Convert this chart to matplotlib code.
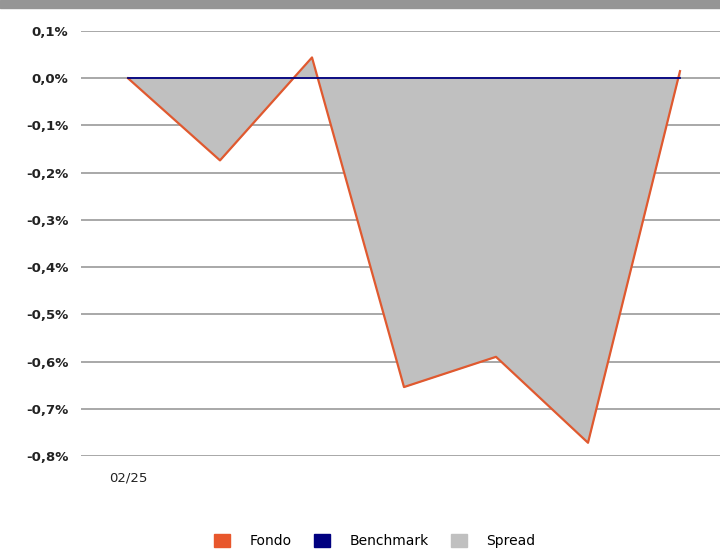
import numpy as np
import matplotlib.pyplot as plt
from matplotlib.patches import Patch, Rectangle

# data (percent)
dates = ["02/25", "", "", "", "", "", ""]
fondo = [0.0, -0.174, 0.044, -0.654, -0.590, -0.772, 0.015]
benchmark = [0.0, 0.0, 0.0, 0.0, 0.0, 0.0, 0.0]
yticks = [0.1, 0.0, -0.1, -0.2, -0.3, -0.4, -0.5, -0.6, -0.7, -0.8]

plt.rcParams['font.family'] = ['DejaVu Sans']

fig = plt.figure(figsize=(7.2, 5.51), dpi=100)
fig.patches.append(Rectangle((0, 1 - 8/551), 1, 8/551, transform=fig.transFigure,
                             color='#959595', zorder=0))

ax = fig.add_axes([81/720, 95/551, 1 - 81/720, 425/551])
x = np.arange(len(fondo))

ax.fill_between(x, fondo, benchmark, color='#c0c0c0', zorder=2, linewidth=0)
ax.plot(x, fondo, color='#e0592f', lw=1.6, zorder=3)
ax.plot(x, benchmark, color='#000080', lw=1.3, zorder=4)

ax.set_ylim(-0.8, 0.1)
ax.set_xlim(-(128-81)/92, 6 + 40/92)
ax.set_yticks(yticks)
ax.set_yticklabels([('%.1f%%' % v).replace('.', ',') for v in yticks],
                   fontsize=9.5, fontweight='bold', color='#222222')
ax.set_xticks(x)
ax.set_xticklabels(dates, fontsize=9.5, color='#222222')
ax.tick_params(length=0, axis='y', pad=9)
ax.tick_params(length=0, axis='x', pad=11)
ax.grid(axis='y', color='#a8a8a8', lw=1.4, zorder=1)
ax.set_axisbelow(True)
for s in ax.spines.values():
    s.set_visible(False)

handles = [Patch(color='#e8572c', label='Fondo'),
           Patch(color='#000080', label='Benchmark'),
           Patch(color='#c0c0c0', label='Spread')]
fig.legend(handles=handles, loc='center', bbox_to_anchor=(375/720, 1 - 541/551), ncol=3,
           frameon=False, fontsize=10, handlelength=1.15, handleheight=1.15,
           handletextpad=1.4, columnspacing=1.6)

fig.savefig('out.png', dpi=100)
